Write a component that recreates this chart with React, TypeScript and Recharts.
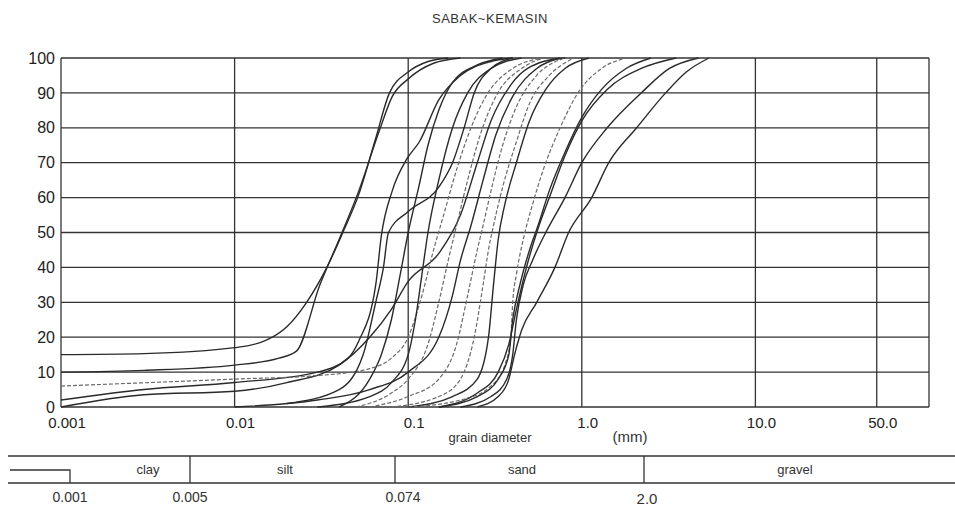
import React from 'react';
import { LineChart, Line, XAxis, YAxis, CartesianGrid } from 'recharts';

const title = 'SABAK~KEMASIN';
const xTicks = [0.001, 0.01, 0.1, 1, 10, 50, 100];
const xTickLabels = ['0.001', '0.01', '0.1', '1.0', '10.0', '50.0', ''];
const yTicks = [0, 10, 20, 30, 40, 50, 60, 70, 80, 90, 100];
const classNames = ['clay', 'silt', 'sand', 'gravel'];
const classBounds = ['0.001', '0.005', '0.074', '2.0'];

type P = { d: number; p: number };
const mk = (pts: number[][]): P[] => pts.map(([d, p]) => ({ d, p }));

const curveA = mk([[0.001, 15], [0.003, 15.3], [0.01, 17], [0.015, 19], [0.02, 23], [0.026, 30], [0.034, 40], [0.042, 50], [0.052, 61], [0.065, 77], [0.078, 90], [0.1, 96], [0.13, 99], [0.17, 100]]);
const curveB = mk([[0.001, 10], [0.003, 10.5], [0.01, 12], [0.018, 14], [0.0227, 16], [0.031, 35], [0.04, 48], [0.052, 62], [0.068, 79], [0.081, 89], [0.1, 94], [0.14, 98.5], [0.2, 100]]);
const curveC = mk([[0.001, 2], [0.003, 5], [0.01, 7], [0.03, 10], [0.045, 14], [0.052, 19], [0.065, 35], [0.07, 49], [0.081, 62], [0.098, 71], [0.116, 76], [0.15, 88], [0.2, 95], [0.3, 99], [0.4, 100]]);
const curveD = mk([[0.001, 0], [0.003, 3.5], [0.01, 4.5], [0.02, 7], [0.04, 12], [0.06, 20], [0.08, 28], [0.1, 36], [0.15, 44], [0.2, 55], [0.25, 70], [0.3, 82], [0.4, 93], [0.6, 99], [0.8, 100]]);
const curveE = mk([[0.04, 0], [0.06, 8], [0.07, 15], [0.08, 25], [0.09, 38], [0.1, 50], [0.115, 63], [0.13, 75], [0.15, 85], [0.18, 93], [0.25, 98], [0.35, 100]]);
const curveF = mk([[0.001, 6], [0.01, 8], [0.03, 9], [0.06, 11], [0.08, 14], [0.1, 20], [0.12, 32], [0.14, 45], [0.16, 55], [0.19, 68], [0.23, 80], [0.28, 89], [0.4, 97], [0.6, 100]]);
const curveG = mk([[0.02, 1], [0.04, 5], [0.055, 15], [0.065, 30], [0.072, 40], [0.077, 50], [0.1, 56], [0.15, 63], [0.18, 70], [0.21, 80], [0.24, 90], [0.3, 97], [0.4, 100]]);
const curveH = mk([[0.03, 0], [0.06, 3], [0.08, 7], [0.1, 15], [0.11, 25], [0.12, 38], [0.13, 50], [0.15, 65], [0.18, 80], [0.22, 90], [0.3, 97], [0.45, 100]]);
const curveI = mk([[0.05, 0], [0.08, 4], [0.1, 8], [0.13, 18], [0.15, 30], [0.17, 42], [0.19, 52], [0.22, 65], [0.26, 78], [0.32, 89], [0.45, 97], [0.6, 100]]);
const curveJ = mk([[0.01, 0], [0.03, 2], [0.06, 5], [0.1, 10], [0.15, 20], [0.18, 32], [0.2, 42], [0.23, 52], [0.27, 65], [0.32, 78], [0.4, 89], [0.55, 97], [0.75, 100]]);
const curveK = mk([[0.06, 0], [0.1, 3], [0.15, 8], [0.19, 18], [0.22, 32], [0.25, 45], [0.27, 52], [0.3, 62], [0.35, 75], [0.42, 86], [0.55, 95], [0.8, 100]]);
const curveL = mk([[0.08, 0], [0.15, 3], [0.2, 8], [0.24, 20], [0.27, 35], [0.29, 45], [0.31, 52], [0.35, 63], [0.42, 76], [0.5, 87], [0.65, 95], [0.9, 100]]);
const curveM = mk([[0.1, 0], [0.18, 3], [0.25, 8], [0.29, 20], [0.31, 35], [0.33, 48], [0.36, 58], [0.42, 70], [0.5, 82], [0.62, 91], [0.8, 97], [1.1, 100]]);
const curveN = mk([[0.1, 0], [0.2, 2], [0.3, 6], [0.36, 12], [0.39, 20], [0.4, 30], [0.42, 38], [0.46, 48], [0.52, 58], [0.6, 68], [0.75, 80], [0.95, 90], [1.3, 97], [1.8, 100]]);
const curveO = mk([[0.15, 0], [0.25, 3], [0.33, 8], [0.38, 15], [0.4, 25], [0.44, 35], [0.5, 45], [0.56, 52], [0.65, 62], [0.8, 73], [1.0, 83], [1.3, 91], [1.8, 97], [2.5, 100]]);
const curveP = mk([[0.25, 0], [0.33, 3], [0.38, 8], [0.41, 15], [0.45, 22], [0.55, 30], [0.7, 40], [0.84, 50], [1.14, 60], [1.43, 70], [2.07, 80], [3.04, 90], [4.0, 96], [5.4, 100]]);
const curveQ = mk([[0.2, 0], [0.3, 3], [0.37, 8], [0.4, 15], [0.42, 25], [0.46, 35], [0.52, 42], [0.62, 50], [0.8, 60], [1.0, 70], [1.4, 80], [2.2, 90], [3.2, 97], [4.7, 100]]);
const curveR = mk([[0.15, 0], [0.25, 4], [0.33, 10], [0.38, 18], [0.42, 28], [0.48, 40], [0.55, 50], [0.65, 60], [0.8, 72], [1.0, 82], [1.4, 91], [2.2, 97], [3.5, 100]]);

const curves: { data: P[]; faint?: boolean }[] = [
  { data: curveA }, { data: curveB }, { data: curveC }, { data: curveD },
  { data: curveE }, { data: curveF, faint: true }, { data: curveG }, { data: curveH },
  { data: curveI, faint: true }, { data: curveJ }, { data: curveK, faint: true }, { data: curveL, faint: true },
  { data: curveM }, { data: curveN, faint: true }, { data: curveO }, { data: curveP },
  { data: curveQ }, { data: curveR },
];

const FONT = '"Liberation Sans", Arial, sans-serif';

const XTick = (props: any) => {
  const { x, y, payload } = props;
  const i = xTicks.indexOf(payload.value);
  return (
    <text x={x + 6} y={y} dy="0.71em" textAnchor="middle" fontSize={15} fill="#222" fontFamily={FONT}>
      {i >= 0 ? xTickLabels[i] : ''}
    </text>
  );
};

export default function App() {
  return (
    <div style={{ position: 'absolute', left: 0, top: 0, width: 955, height: 509, background: '#fff' }}>
      <LineChart width={955} height={509} margin={{ top: 58, right: 26, bottom: 72, left: 21 }}>
        <CartesianGrid stroke="#333" strokeWidth={1.3} />
        <XAxis
          dataKey="d"
          type="number"
          scale="log"
          domain={[0.001, 100]}
          ticks={xTicks}
          allowDataOverflow
          axisLine={false}
          tickLine={false}
          tickSize={0}
          tickMargin={10}
          height={30}
          tick={<XTick />}
        />
        <YAxis
          dataKey="p"
          type="number"
          domain={[0, 100]}
          ticks={yTicks}
          width={40}
          axisLine={false}
          tickLine={false}
          tickSize={0}
          tickMargin={6}
          tick={{ fontSize: 16, fill: '#222', fontFamily: FONT }}
        />
        {curves.map((c, i) => (
          <Line
            key={i}
            data={c.data}
            dataKey="p"
            type="monotone"
            stroke={c.faint ? '#6a6a6a' : '#2a2a2a'}
            strokeWidth={c.faint ? 1.2 : 1.4}
            strokeDasharray={c.faint ? '4 2' : undefined}
            dot={false}
            activeDot={false}
            isAnimationActive={false}
          />
        ))}
      </LineChart>
      <svg width={955} height={509} style={{ position: 'absolute', left: 0, top: 0, pointerEvents: 'none' }}>
        <text x={490} y={23} textAnchor="middle" fontSize={13} fill="#333" fontFamily={FONT} letterSpacing={0.5}>{title}</text>
        <text x={490} y={442} textAnchor="middle" fontSize={13} fill="#333" fontFamily={FONT}>grain diameter</text>
        <text x={630} y={442} textAnchor="middle" fontSize={15} fill="#333" fontFamily={FONT}>(mm)</text>
        <line x1={8} y1={456} x2={955} y2={456} stroke="#333" strokeWidth={1.5} />
        <line x1={8} y1={483} x2={955} y2={483} stroke="#333" strokeWidth={1.5} />
        <polyline points="10,470 70,470 70,483" fill="none" stroke="#333" strokeWidth={1.3} />
        <line x1={190} y1={456} x2={190} y2={483} stroke="#333" strokeWidth={1.3} />
        <line x1={395} y1={456} x2={395} y2={483} stroke="#333" strokeWidth={1.3} />
        <line x1={644} y1={456} x2={644} y2={483} stroke="#333" strokeWidth={1.3} />
        <text x={148} y={474} textAnchor="middle" fontSize={13} fill="#333" fontFamily={FONT}>{classNames[0]}</text>
        <text x={285} y={474} textAnchor="middle" fontSize={13} fill="#333" fontFamily={FONT}>{classNames[1]}</text>
        <text x={522} y={474} textAnchor="middle" fontSize={13} fill="#333" fontFamily={FONT}>{classNames[2]}</text>
        <text x={795} y={474} textAnchor="middle" fontSize={13} fill="#333" fontFamily={FONT}>{classNames[3]}</text>
        <text x={70} y={502} textAnchor="middle" fontSize={14} fill="#333" fontFamily={FONT}>{classBounds[0]}</text>
        <text x={190} y={502} textAnchor="middle" fontSize={14} fill="#333" fontFamily={FONT}>{classBounds[1]}</text>
        <text x={403} y={502} textAnchor="middle" fontSize={14} fill="#333" fontFamily={FONT}>{classBounds[2]}</text>
        <text x={647} y={504} textAnchor="middle" fontSize={15} fill="#333" fontFamily={FONT}>{classBounds[3]}</text>
      </svg>
    </div>
  );
}
